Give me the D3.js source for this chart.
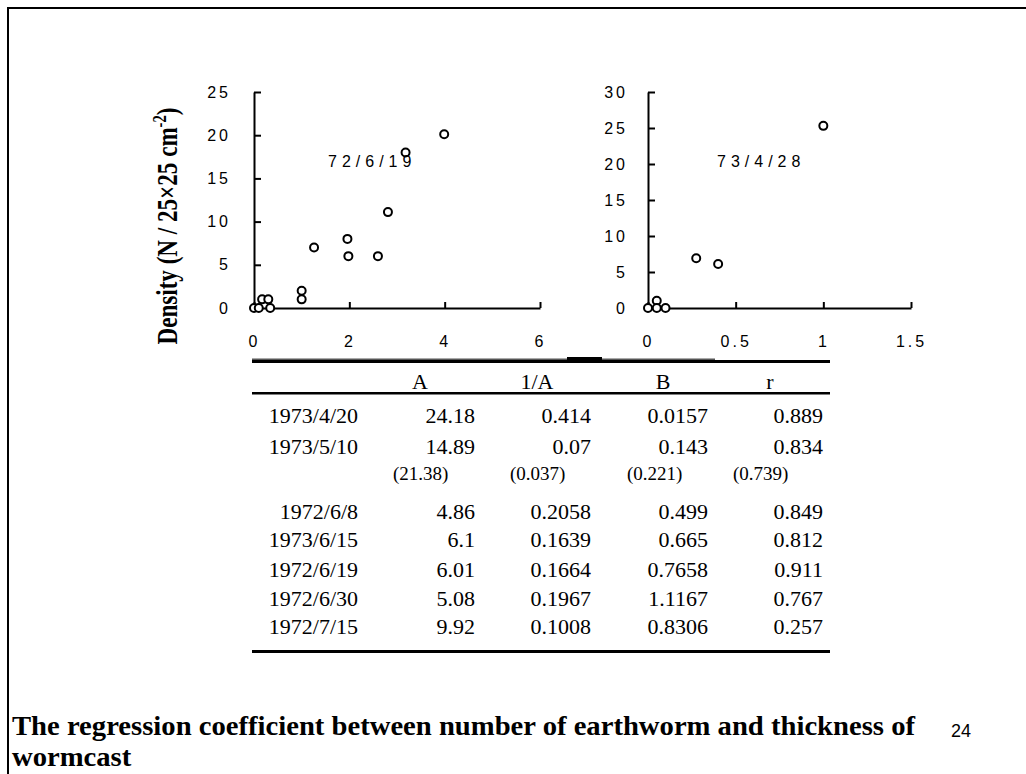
<!DOCTYPE html>
<html>
<head>
<meta charset="utf-8">
<script src="https://cdn.jsdelivr.net/npm/d3@7"></script>
<style>
  body { margin: 0; background: #fff; }
  svg { display: block; }
  .tick text { font-family: 'Liberation Sans Narrow', 'Liberation Sans', Arial, sans-serif; font-size: 16px; letter-spacing: 3px; fill: #000; }
  .tick line, .domain { stroke: #000; stroke-width: 2px; }
  .tbl { font-family: 'Liberation Serif', 'Times New Roman', serif; fill: #000; }
</style>
</head>
<body>
<script>
// scatter, 1972/6/19
var thick1 = [0, 0.1, 0.17, 0.3, 0.34, 1.0, 1.0, 1.26, 1.96, 1.98, 2.6, 2.81, 3.18, 3.99];
var dens1  = [0, 0, 1, 1, 0, 2, 1, 7, 8, 6, 6, 11.1, 18, 20.1];
var xTicks1 = [0, 2, 4, 6];
var yTicks1 = [0, 5, 10, 15, 20, 25];

// scatter, 1973/4/28
var thick2 = [0, 0.05, 0.05, 0.1, 0.275, 0.4, 1.0];
var dens2  = [0, 1, 0, 0, 6.9, 6.1, 25.3];
var xTicks2 = [0, 0.5, 1, 1.5];
var yTicks2 = [0, 5, 10, 15, 20, 25, 30];

// regression table
var headers = ['A', '1/A', 'B', 'r'];
var dates = ['1973/4/20', '1973/5/10', '', '1972/6/8', '1973/6/15', '1972/6/19', '1972/6/30', '1972/7/15'];
var colA  = ['24.18', '14.89', '(21.38)', '4.86', '6.1', '6.01', '5.08', '9.92'];
var colIA = ['0.414', '0.07', '(0.037)', '0.2058', '0.1639', '0.1664', '0.1967', '0.1008'];
var colB  = ['0.0157', '0.143', '(0.221)', '0.499', '0.665', '0.7658', '1.1167', '0.8306'];
var colR  = ['0.889', '0.834', '(0.739)', '0.849', '0.812', '0.911', '0.767', '0.257'];

var svg = d3.select('body').append('svg')
    .attr('width', 1026)
    .attr('height', 774);

// slide frame
svg.append('path')
    .attr('d', 'M8,774V8H1026')
    .attr('fill', 'none')
    .attr('stroke', '#000')
    .attr('stroke-width', 2);

function scatter(opts) {
  var x = d3.scaleLinear().domain(opts.xDomain).range(opts.xRange);
  var y = d3.scaleLinear().domain(opts.yDomain).range([308, 92]);
  var g = svg.append('g');
  var fmt = d3.format('~g');

  g.append('g')
      .attr('transform', 'translate(0,308)')
      .call(d3.axisBottom(x).tickValues(opts.xTicks).tickFormat(fmt)
        .tickSize(-6).tickSizeOuter(0).tickPadding(28));

  g.append('g')
      .attr('transform', 'translate(' + opts.xRange[0] + ',0)')
      .call(d3.axisLeft(y).tickValues(opts.yTicks).tickFormat(fmt)
        .tickSize(-7).tickSizeOuter(0).tickPadding(opts.yPad));

  g.selectAll('circle')
      .data(opts.xs.map(function(v, i) { return [v, opts.ys[i]]; }))
    .enter().append('circle')
      .attr('cx', function(d) { return x(d[0]); })
      .attr('cy', function(d) { return y(d[1]); })
      .attr('r', 4)
      .attr('fill', '#fff')
      .attr('stroke', '#000')
      .attr('stroke-width', 2);

  g.append('text')
      .attr('x', opts.labelX)
      .attr('y', 167)
      .attr('font-family', "'Liberation Sans Narrow', 'Liberation Sans', Arial, sans-serif")
      .attr('font-size', 16)
      .attr('letter-spacing', '5px')
      .text(opts.label);
}

scatter({ xs: thick1, ys: dens1, xDomain: [0, 6], xRange: [254, 540], yDomain: [0, 25],
          xTicks: xTicks1, yTicks: yTicks1, yPad: 23, label: '72/6/19', labelX: 328 });
scatter({ xs: thick2, ys: dens2, xDomain: [0, 1.5], xRange: [648, 911], yDomain: [0, 30],
          xTicks: xTicks2, yTicks: yTicks2, yPad: 20, label: '73/4/28', labelX: 717 });

// y axis title
var yt = svg.append('text')
    .attr('transform', 'translate(177,226) rotate(-90)')
    .attr('text-anchor', 'middle')
    .attr('font-family', "'Liberation Serif', 'Times New Roman', serif")
    .attr('font-weight', 'bold')
    .attr('font-size', 30)
    .attr('textLength', 237)
    .attr('lengthAdjust', 'spacingAndGlyphs');
yt.append('tspan').text('Density (N / 25\u00d725 cm');
yt.append('tspan').attr('font-size', 19).attr('dy', -11).text('-2');
yt.append('tspan').attr('dy', 11).text(')');

// table rules
var tbl = svg.append('g');
tbl.append('rect').attr('x', 252).attr('y', 360).attr('width', 578).attr('height', 3);
tbl.append('rect').attr('x', 252).attr('y', 358.5).attr('width', 463).attr('height', 1.5).attr('fill', '#555');
tbl.append('rect').attr('x', 567).attr('y', 357).attr('width', 35).attr('height', 3);
tbl.append('rect').attr('x', 252).attr('y', 392).attr('width', 578).attr('height', 2.5);
tbl.append('rect').attr('x', 252).attr('y', 650).attr('width', 578).attr('height', 3);

var headX = [420, 537, 663, 770];
tbl.selectAll('text.head')
    .data(headers)
  .enter().append('text')
    .attr('class', 'tbl head')
    .attr('x', function(d, i) { return headX[i]; })
    .attr('y', 389)
    .attr('text-anchor', 'middle')
    .attr('font-size', 22)
    .text(function(d) { return d; });

var rowY = [423, 454, 480, 519, 547, 577, 606, 634];
var rightX = [358, 475, 591, 708, 823];
var parenX = [null, 393, 510, 627, 733];
var cols = [dates, colA, colIA, colB, colR];

cols.forEach(function(col, c) {
  tbl.selectAll('text.c' + c)
      .data(col)
    .enter().append('text')
      .attr('class', 'tbl c' + c)
      .attr('x', function(d, i) { return i === 2 ? parenX[c] : rightX[c]; })
      .attr('y', function(d, i) { return rowY[i]; })
      .attr('text-anchor', function(d, i) { return i === 2 ? 'start' : 'end'; })
      .attr('font-size', function(d, i) { return i === 2 ? 19 : 22; })
      .text(function(d) { return d; });
});

// caption
var cap1 = svg.append('text')
    .attr('x', 12)
    .attr('y', 735)
    .attr('font-family', "'Liberation Serif', 'Times New Roman', serif")
    .attr('font-weight', 'bold')
    .attr('font-size', 28)
    .text('The regression coefficient between number of earthworm and thickness of');
var ratio = 903 / cap1.node().getComputedTextLength();
cap1.attr('textLength', 903).attr('lengthAdjust', 'spacingAndGlyphs');

var cap2 = svg.append('text')
    .attr('x', 12)
    .attr('y', 766)
    .attr('font-family', "'Liberation Serif', 'Times New Roman', serif")
    .attr('font-weight', 'bold')
    .attr('font-size', 28)
    .text('wormcast');
cap2.attr('textLength', cap2.node().getComputedTextLength() * ratio)
    .attr('lengthAdjust', 'spacingAndGlyphs');

svg.append('text')
    .attr('x', 951)
    .attr('y', 737)
    .attr('font-family', "'Liberation Sans', Arial, sans-serif")
    .attr('font-size', 18)
    .text('24');
</script>
</body>
</html>
